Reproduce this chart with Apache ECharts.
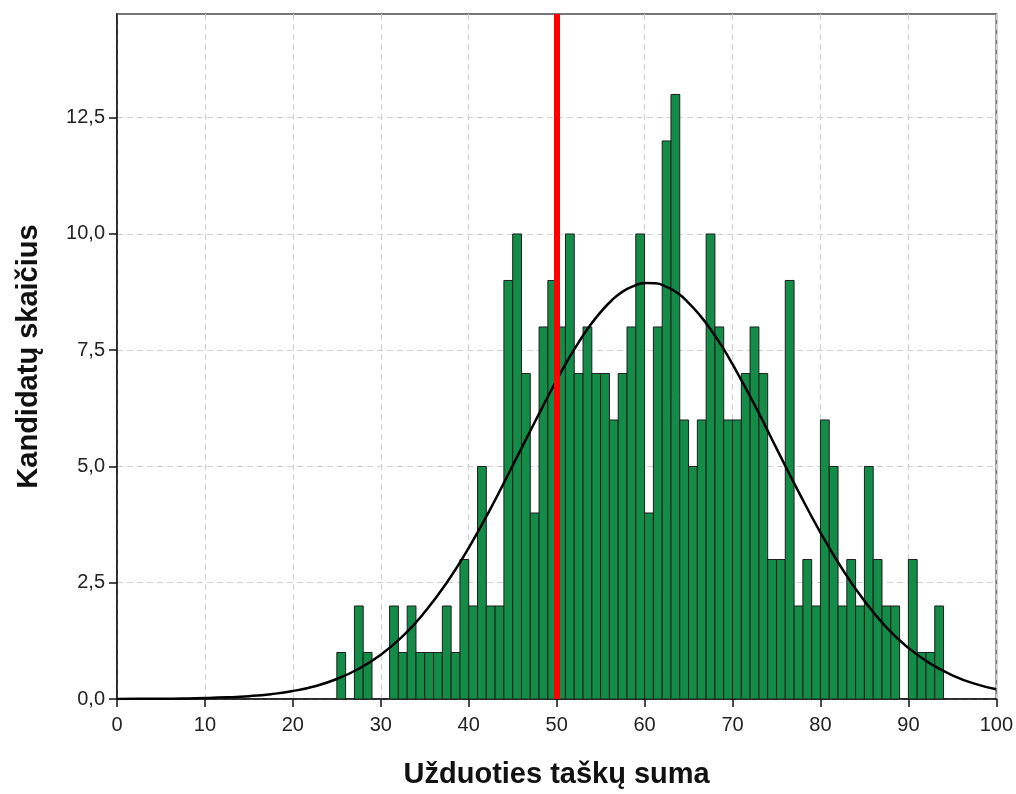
<!DOCTYPE html>
<html><head><meta charset="utf-8">
<script src="https://cdn.jsdelivr.net/npm/echarts@6/dist/echarts.min.js"></script>
<style>html,body{margin:0;padding:0;background:#fff}#c{width:1016px;height:794px}</style>
</head><body><div id="c"></div>
<script>
// Histogram bins: score value (bin start) and number of candidates
const scoreBins = [25,26,27,28,29,30,31,32,33,34,35,36,37,38,39,
  40,41,42,43,44,45,46,47,48,49,
  50,51,52,53,54,55,56,57,58,59,
  60,61,62,63,64,65,66,67,68,69,
  70,71,72,73,74,75,76,77,78,79,
  80,81,82,83,84,85,86,87,88,89,
  90,91,92,93];
const binCounts = [1,0,2,1,0,0,2,1,2,1,1,1,2,1,3,
  2,5,2,2,9,10,7,4,8,9,
  8,10,7,8,7,7,6,7,8,10,
  4,8,12,13,6,5,6,10,8,6,
  6,7,8,7,3,3,9,2,3,2,
  6,5,2,3,2,5,3,2,2,0,
  3,1,1,2];
// Normal curve
const curveX = [0,2.5,5,7.5,10,12.5,15,17.5,20,22.5,25,27.5,30,32.5,35,37.5,40,42.5,45,47.5,50,
  51.25,52.5,53.75,55,56.25,57.5,58.75,60,61.25,62.5,63.75,65,66.25,67.5,68.75,70,
  72.5,75,77.5,80,82.5,85,87.5,90,92.5,95,97.5,100];
const curveY = [0.001,0.003,0.005,0.01,0.019,0.035,0.061,0.104,0.171,0.275,0.43,0.65,0.95,1.35,1.87,2.5,3.25,4.1,5.02,5.95,6.86,
  7.28,7.67,8.02,8.32,8.57,8.76,8.88,8.945,8.94,8.86,8.73,8.52,8.26,7.95,7.6,7.2,
  6.33,5.39,4.46,3.58,2.79,2.11,1.54,1.1,0.76,0.51,0.33,0.21];
const cutScore = [50];
const yTickValues = [0,2.5,5,7.5,10,12.5];

const FONT = '"Liberation Sans",Arial,sans-serif';
const binWidth = 1;

const chart = echarts.init(document.getElementById('c'));
chart.setOption({
  animation: false,
  backgroundColor: '#fff',
  grid: {left: 117, right: 19, top: 14, bottom: 93, show: true, borderColor: '#777', borderWidth: 2, backgroundColor: '#fff'},
  xAxis: {
    type: 'value', min: 0, max: 100, interval: 10,
    name: 'Užduoties taškų suma', nameLocation: 'middle', nameGap: 61,
    nameTextStyle: {fontFamily: FONT, fontWeight: 'bold', fontSize: 29, color: '#111'},
    axisLine: {show: true, onZero: false, lineStyle: {color: '#111', width: 1.5}},
    axisTick: {show: true, inside: false, length: 8, lineStyle: {color: '#111', width: 1.5}},
    axisLabel: {fontFamily: FONT, fontSize: 20, color: '#222', margin: 16},
    splitLine: {show: true, lineStyle: {color: '#d0d0d0', type: [6, 4], width: 1}}
  },
  yAxis: {
    type: 'value', min: 0, max: 14.73, interval: 2.5,
    name: 'Kandidatų skaičius', nameLocation: 'middle', nameGap: 74, nameRotate: 90,
    nameTextStyle: {fontFamily: FONT, fontWeight: 'bold', fontSize: 29, color: '#111'},
    axisLine: {show: true, lineStyle: {color: '#111', width: 1.5}},
    axisTick: {show: true, inside: false, length: 8, customValues: yTickValues, lineStyle: {color: '#111', width: 1.5}},
    axisLabel: {fontFamily: FONT, fontSize: 20, color: '#222', margin: 12, customValues: yTickValues,
      formatter: v => v.toFixed(1).replace('.', ',')},
    splitLine: {show: true, lineStyle: {color: '#d0d0d0', type: [6, 4], width: 1}}
  },
  series: [
    {
      type: 'custom', z: 2,
      data: scoreBins.map((s, i) => [s, binCounts[i]]).filter(d => d[1] > 0),
      renderItem: (params, api) => {
        const x0 = api.value(0), v = api.value(1);
        const p0 = api.coord([x0, 0]);
        const p1 = api.coord([x0 + binWidth, v]);
        return {type: 'rect', shape: {x: p0[0], y: p1[1], width: p1[0] - p0[0], height: p0[1] - p1[1]},
          style: {fill: '#138c48', stroke: '#1e1e1e', lineWidth: 1}};
      }
    },
    {
      type: 'line', z: 4, smooth: true, showSymbol: false, symbol: 'none',
      data: curveX.map((x, i) => [x, curveY[i]]),
      lineStyle: {color: '#000', width: 2.5}
    },
    {
      type: 'line', z: 5, data: [],
      markLine: {silent: true, symbol: 'none', label: {show: false},
        lineStyle: {color: '#ff0000', width: 6, type: 'solid'},
        data: cutScore.map(v => ({xAxis: v}))}
    }
  ]
});
</script>
</body></html>
